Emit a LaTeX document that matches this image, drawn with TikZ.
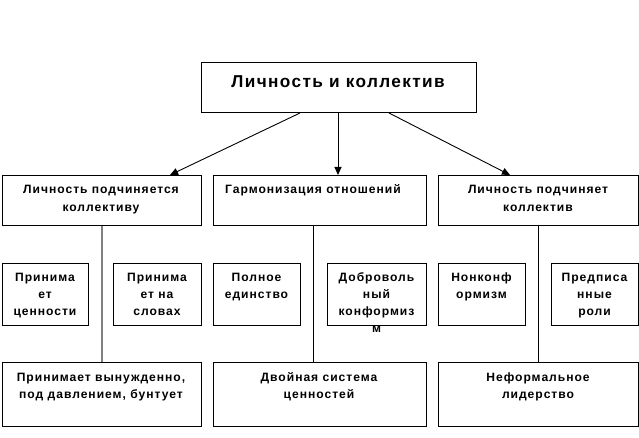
\documentclass[tikz,border=0pt]{standalone}
\usepackage{fontspec}
\setmainfont{Liberation Sans}[LetterSpace=8]
\usetikzlibrary{arrows.meta,calc}
\newcommand{\fs}[1]{\rule{0pt}{#1pt}}
\begin{document}
\begin{tikzpicture}[x=1pt,y=-1pt,
  box/.style={draw, line width=1pt, inner sep=0pt, anchor=north west},
  txt/.style={font=\bfseries\fontsize{12.1}{17}\selectfont, align=center, inner sep=0pt, anchor=north},
  txtb/.style={font=\bfseries\fontsize{12.1}{18}\selectfont, align=center, inner sep=0pt, anchor=north},
  ttl/.style={font=\bfseries\fontsize{17.2}{20}\selectfont, align=center, inner sep=0pt, anchor=north},
  arr/.style={line width=0.9pt, -{Triangle[length=8pt,width=7pt]}},
  ln/.style={line width=1pt},
  gln/.style={line width=1.3pt, draw=black!50}]
\useasboundingbox[fill=white] (0,0) rectangle (639,438);
% boxes
\node[box, minimum width=275pt, minimum height=50pt] (top) at (201,62) {};
\node[box, minimum width=199pt, minimum height=50pt] (l2) at (2,175) {};
\node[box, minimum width=213pt, minimum height=50pt] (m2) at (213,175) {};
\node[box, minimum width=200pt, minimum height=50pt] (r2) at (438,175) {};
\node[box, minimum width=86pt, minimum height=62pt] (a) at (2,263) {};
\node[box, minimum width=88pt, minimum height=62pt] (b) at (113,263) {};
\node[box, minimum width=87pt, minimum height=62pt] (c) at (213,263) {};
\node[box, minimum width=99pt, minimum height=62pt] (d) at (327,263) {};
\node[box, minimum width=87pt, minimum height=62pt] (e) at (438,263) {};
\node[box, minimum width=87pt, minimum height=62pt] (f) at (551,263) {};
\node[box, minimum width=199pt, minimum height=64pt] (l4) at (2,362) {};
\node[box, minimum width=213pt, minimum height=64pt] (m4) at (213,362) {};
\node[box, minimum width=200pt, minimum height=64pt] (r4) at (438,362) {};
% texts
\node[ttl] (ttop) at (338,71) {\fs{16}Личность и коллектив};
\node[txtb] (tl2) at (101,181) {\fs{12}Личность подчиняется\\коллективу};
\node[txtb] (tm2) at (313,181) {\fs{12}Гармонизация отношений};
\node[txtb] (tr2) at (538,181) {\fs{12}Личность подчиняет\\коллектив};
\node[txt] (ta) at (45,269) {\fs{12}Принима\\ет\\ценности};
\node[txt] (tb) at (157,269) {\fs{12}Принима\\ет на\\словах};
\node[txt] (tc) at (256.5,269) {\fs{12}Полное\\единство};
\node[txt] (td) at (376.5,269) {\fs{12}Доброволь\\ный\\конформиз\\м};
\node[txt] (te) at (481.5,269) {\fs{12}Нонконф\\ормизм};
\node[txt] (tf) at (594.5,269) {\fs{12}Предписа\\нные\\роли};
\node[txt] (tl4) at (101,369) {\fs{12}Принимает вынужденно,\\под давлением, бунтует};
\node[txt] (tm4) at (319,369) {\fs{12}Двойная система\\ценностей};
\node[txt] (tr4) at (538,369) {\fs{12}Неформальное\\лидерство};
% arrows
\draw[arr] ($(top.south west)+(99,0)$) -- ($(l2.north west)+(168,0)$);
\draw[arr] ($(top.south west)+(137,0)$) -- ($(m2.north west)+(125,0)$);
\draw[arr] ($(top.south west)+(188,0)$) -- ($(r2.north west)+(72,0)$);
% vertical lines
\draw[gln] (l2.south) -- (l4.north);
\draw[ln] ($(m2.south west)+(100,0)$) -- ($(m4.north west)+(100,0)$);
\draw[ln] (r2.south) -- (r4.north);
\end{tikzpicture}
\end{document}
